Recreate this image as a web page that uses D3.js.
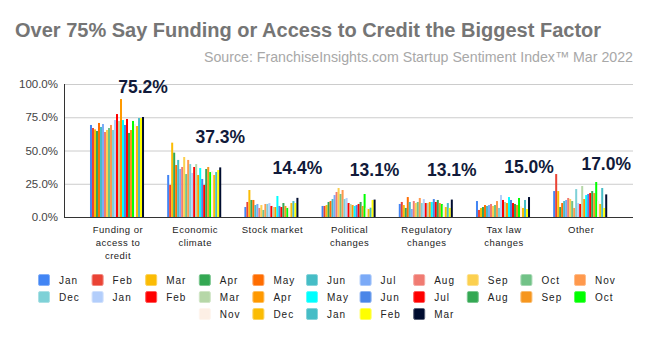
<!DOCTYPE html>
<html>
<head>
<meta charset="utf-8">
<script src="https://cdn.jsdelivr.net/npm/d3@7"></script>
<style>
  body { margin: 0; background: #fff; }
  svg { display: block; font-family: "Liberation Sans", Arial, sans-serif; }
</style>
</head>
<body>
<div id="chart"></div>
<script>
// categorias y meses (ene 2020 -> mar 2022)
const categories = [
  ["Funding or", "access to", "credit"],
  ["Economic", "climate"],
  ["Stock market"],
  ["Political", "changes"],
  ["Regulatory", "changes"],
  ["Tax law", "changes"],
  ["Other"]
];
const months = ["Jan", "Feb", "Mar", "Apr", "May", "Jun", "Jul", "Aug", "Sep", "Oct", "Nov", "Dec",
  "Jan", "Feb", "Mar", "Apr", "May", "Jun", "Jul", "Aug", "Sep", "Oct", "Nov", "Dec",
  "Jan", "Feb", "Mar"];
const colors = ["#4285F4", "#EA4335", "#FBBC04", "#34A853", "#FF6D01", "#46BDC6", "#7BAAF7", "#F07B72",
  "#FCD04F", "#71C287", "#FF994D", "#7ED1D7", "#B3CEFB", "#FF0000", "#B6D7A8", "#FF9900",
  "#00FFFF", "#4A86E8", "#FF0000", "#34A853", "#F6961E", "#00FF00", "#FDEFE5", "#FBBC04",
  "#46BDC6", "#FFFF00", "#000D30"];

// porcentajes por categoria, un valor por mes
const funding    = [69.2, 66.9, 65.9, 64.7, 70.7, 67.7, 69.9, 63.9, 65.4, 66.9, 69.2, 65.4, 72.9, 77.4,
  72.2, 88.7, 72.9, 69.2, 73.7, 63.2, 65.4, 72.2, 70.0, 68.4, 74.4, 74.4, 75.2];
const economic   = [31.6, 24.1, 55.9, 48.4, 39.1, 42.9, 36.1, 37.6, 45.1, 32.3, 42.9, 39.8, 33.1, 37.6,
  39.8, 31.6, 36.8, 28.6, 24.1, 36.1, 37.6, 33.8, 34.5, 31.6, 33.8, 35.3, 37.3];
const stock      = [7.5, 11.3, 20.3, 12.8, 12.8, 9.0, 9.8, 6.8, 9.0, 5.3, 9.8, 9.8, 10.5, 8.3,
  7.5, 7.5, 15.8, 8.3, 7.5, 10.5, 8.3, 6.8, 8.0, 10.5, 12.0, 10.5, 14.4];
const political  = [8.3, 8.3, 9.0, 11.3, 12.0, 13.5, 16.5, 18.8, 21.8, 17.3, 20.3, 13.5, 14.3, 10.5,
  9.8, 9.0, 8.3, 9.0, 9.8, 11.3, 8.3, 17.3, 7.0, 6.0, 7.0, 12.8, 13.1];
const regulatory = [9.8, 11.3, 9.0, 6.8, 15.0, 11.3, 6.0, 12.0, 10.5, 11.3, 14.3, 10.5, 13.5, 10.5,
  10.5, 11.3, 11.3, 13.5, 11.3, 12.8, 10.5, 9.8, 9.0, 7.5, 10.5, 6.8, 13.1];
const taxLaw     = [12.0, 5.3, 6.8, 7.5, 9.0, 8.3, 9.0, 9.8, 8.3, 9.0, 12.0, 6.8, 16.5, 12.8,
  11.3, 10.5, 15.0, 12.8, 10.5, 9.8, 9.0, 14.3, 8.0, 6.8, 12.8, 6.0, 15.0];
const other      = [19.5, 32.3, 19.5, 7.5, 10.5, 12.0, 12.8, 14.3, 13.5, 12.0, 6.8, 21.0, 10.5, 9.8,
  23.3, 13.5, 16.5, 17.3, 18.0, 19.5, 18.0, 26.3, 12.0, 9.8, 21.8, 6.8, 17.0];
const yTicks = [0, 25, 50, 75, 100];

const values = [funding, economic, stock, political, regulatory, taxLaw, other];

const WIDTH = 650;
const HEIGHT = 337;
const PLOT = { left: 64, right: 633, top: 84, bottom: 217 };

const svg = d3.select("#chart").append("svg")
  .attr("width", WIDTH)
  .attr("height", HEIGHT);

// titulo y fuente
svg.append("text")
  .attr("x", 15).attr("y", 37)
  .attr("font-size", 20)
  .attr("font-weight", "bold")
  .attr("fill", "#757575")
  .text("Over 75% Say Funding or Access to Credit the Biggest Factor");

svg.append("text")
  .attr("x", 633).attr("y", 62)
  .attr("text-anchor", "end")
  .attr("font-size", 14.2)
  .attr("fill", "#a8a8a8")
  .text("Source: FranchiseInsights.com Startup Sentiment Index\u2122 Mar 2022");

const escalaY = d3.scaleLinear().domain([0, 100]).range([PLOT.bottom, PLOT.top]);

const escalaX = d3.scaleBand()
  .domain(d3.range(categories.length))
  .range([78.4, 618.8])
  .paddingInner(0.3)
  .paddingOuter(0.15);

const escalaMes = d3.scaleBand()
  .domain(d3.range(months.length))
  .range([0, escalaX.bandwidth()]);

// grilla
svg.append("g")
  .selectAll("line")
  .data(yTicks.filter(t => t > 0))
  .join("line")
  .attr("x1", PLOT.left).attr("x2", PLOT.right)
  .attr("y1", d => escalaY(d) + 0.5).attr("y2", d => escalaY(d) + 0.5)
  .attr("stroke", "#cccccc");

// eje y
const ejeY = d3.axisLeft(escalaY)
  .tickValues(yTicks)
  .tickFormat(d => d.toFixed(1) + "%")
  .tickSize(0)
  .tickPadding(6);

const gY = svg.append("g")
  .attr("transform", `translate(${PLOT.left}, 0)`)
  .call(ejeY);
gY.select(".domain").remove();
gY.selectAll("text")
  .attr("font-size", 11.5)
  .attr("font-family", "Liberation Sans, Arial, sans-serif")
  .attr("fill", "#444");

// barras
const grupos = svg.append("g")
  .selectAll("g")
  .data(values)
  .join("g")
  .attr("transform", (d, i) => `translate(${escalaX(i)}, 0)`);

grupos.selectAll("rect")
  .data(d => d)
  .join("rect")
  .attr("x", (d, j) => escalaMes(j))
  .attr("width", escalaMes.bandwidth())
  .attr("y", d => escalaY(d))
  .attr("height", d => escalaY(0) - escalaY(d))
  .attr("fill", (d, j) => colors[j]);

// etiqueta del ultimo mes
grupos.append("text")
  .attr("x", escalaMes(months.length - 1) + escalaMes.bandwidth() / 2)
  .attr("y", d => escalaY(d[d.length - 1]) - 24)
  .attr("text-anchor", "middle")
  .attr("font-size", 17.5)
  .attr("font-weight", "bold")
  .attr("fill", "#111a3a")
  .text(d => d[d.length - 1].toFixed(1) + "%");

// lineas de ejes
svg.append("line")
  .attr("x1", PLOT.left + 0.5).attr("x2", PLOT.left + 0.5)
  .attr("y1", PLOT.top).attr("y2", PLOT.bottom + 0.5)
  .attr("stroke", "#333");
svg.append("line")
  .attr("x1", PLOT.left).attr("x2", PLOT.right)
  .attr("y1", PLOT.bottom + 0.5).attr("y2", PLOT.bottom + 0.5)
  .attr("stroke", "#333");

// nombres de categorias
svg.append("g")
  .selectAll("text")
  .data(categories)
  .join("text")
  .attr("x", (d, i) => escalaX(i) + escalaX.bandwidth() / 2 + 1)
  .attr("y", 233)
  .attr("text-anchor", "middle")
  .attr("font-size", 9.5)
  .attr("letter-spacing", 0.5)
  .attr("fill", "#222")
  .selectAll("tspan")
  .data(d => d)
  .join("tspan")
  .attr("x", function () { return this.parentNode.getAttribute("x"); })
  .attr("dy", (d, k) => k === 0 ? 0 : 13)
  .text(d => d);

// leyenda: 11 por fila, la ultima centrada
const PASO = 53.6;
const legendItems = months.map((m, j) => {
  const fila = Math.floor(j / 11);
  let col = j % 11;
  if (fila === 2) col += 3;
  return { label: m, color: colors[j], x: 38 + col * PASO, y: 280 + fila * 17 };
});

const leyenda = svg.append("g")
  .selectAll("g")
  .data(legendItems)
  .join("g")
  .attr("transform", d => `translate(${d.x}, ${d.y})`);

leyenda.append("rect")
  .attr("x", 0.5).attr("y", -5.5)
  .attr("width", 11).attr("height", 11)
  .attr("rx", 1.5)
  .attr("fill", d => d.color)
  .attr("stroke", d => d3.interpolateRgb(d.color, "#fff")(0.35));

leyenda.append("text")
  .attr("x", 21).attr("y", 3.5)
  .attr("font-size", 10)
  .attr("letter-spacing", 1)
  .attr("fill", "#222")
  .text(d => d.label);
</script>
</body>
</html>
